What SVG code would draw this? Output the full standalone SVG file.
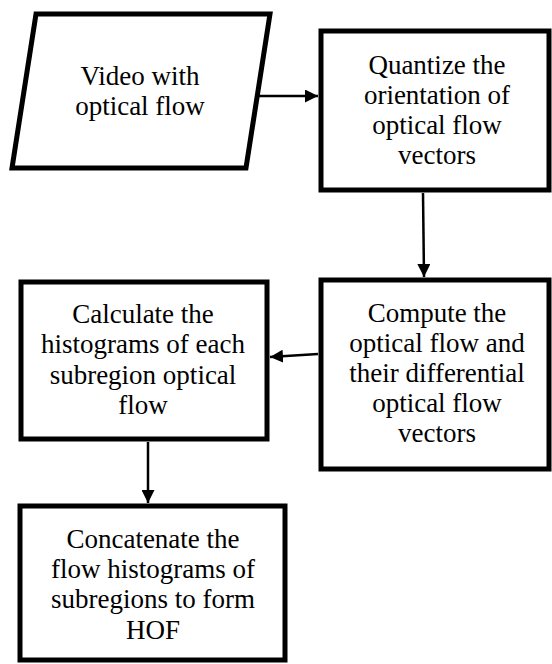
<svg xmlns="http://www.w3.org/2000/svg" width="552" height="664" viewBox="0 0 552 664">
<defs>
<style>
.box{fill:#fff;stroke:#000;stroke-width:5}
.c{stroke:#000;stroke-width:2.5;fill:none;marker-end:url(#ah)}
</style>
<marker id="ah" viewBox="0 0 10 10" refX="10" refY="5" markerWidth="5.2" markerHeight="5.2" markerUnits="strokeWidth" orient="auto">
<path d="M0,0 L10,5 L0,10 Z" fill="#000"/>
</marker>
</defs>
<rect width="552" height="664" fill="#fff"/>
<g id="connectors">
<line class="c" x1="258" y1="96" x2="318" y2="96"/>
<line class="c" x1="423" y1="193" x2="424" y2="277"/>
<line class="c" x1="318" y1="354" x2="270" y2="357"/>
<line class="c" x1="148" y1="442" x2="148" y2="503"/>
</g>
<g font-family="Liberation Serif, Times New Roman, serif" font-size="27" text-anchor="middle" fill="#000">
<g id="video">
<polygon class="box" points="36,14 270,14 246,168 12,168"/>
<text x="140" y="85">Video with</text>
<text x="140" y="115">optical flow</text>
</g>
<g id="quantize">
<rect class="box" x="321" y="31" width="228" height="159"/>
<text x="437" y="74">Quantize the</text>
<text x="437" y="104">orientation of</text>
<text x="437" y="134">optical flow</text>
<text x="437" y="164">vectors</text>
</g>
<g id="compute">
<rect class="box" x="321" y="280" width="228" height="189"/>
<text x="437" y="322">Compute the</text>
<text x="437" y="352">optical flow and</text>
<text x="437" y="382">their differential</text>
<text x="437" y="412">optical flow</text>
<text x="437" y="442">vectors</text>
</g>
<g id="calculate">
<rect class="box" x="21" y="282" width="246" height="157"/>
<text x="143" y="323">Calculate the</text>
<text x="143" y="353">histograms of each</text>
<text x="143" y="384">subregion optical</text>
<text x="143" y="414">flow</text>
</g>
<g id="concatenate">
<rect class="box" x="20" y="506" width="265" height="154"/>
<text x="153" y="548">Concatenate the</text>
<text x="153" y="578">flow histograms of</text>
<text x="153" y="608">subregions to form</text>
<text x="153" y="639">HOF</text>
</g>
</g>
</svg>
